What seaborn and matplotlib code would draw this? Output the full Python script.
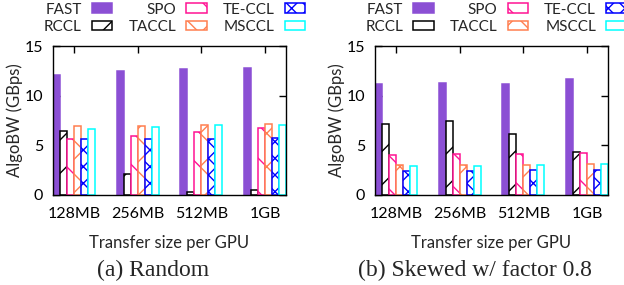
import pandas as pd
import numpy as np
import matplotlib
matplotlib.use('Agg')
import matplotlib.pyplot as plt
from matplotlib.patches import Patch
import seaborn as sns

sns.set_style('ticks')
plt.rcParams['font.family'] = ['Lato', 'DejaVu Sans']
plt.rcParams['hatch.linewidth'] = 1.0
plt.rcParams['axes.linewidth'] = 1.0

sizes = ['128MB', '256MB', '512MB', '1GB']
algos = ['FAST', 'RCCL', 'SPO', 'TACCL', 'TE-CCL', 'MSCCL']

# (a) Random
random_fast = [12.1, 12.5, 12.7, 12.8]
random_rccl = [6.4, 2.15, 0.35, 0.55]
random_spo = [5.6, 5.95, 6.3, 6.75]
random_taccl = [6.95, 6.95, 7.05, 7.1]
random_teccl = [5.6, 5.65, 5.67, 5.7]
random_msccl = [6.6, 6.8, 7.0, 7.05]

# (b) Skewed w/ factor 0.8
skew_fast = [11.2, 11.3, 11.15, 11.7]
skew_rccl = [7.1, 7.45, 6.1, 4.35]
skew_spo = [4.0, 4.1, 4.1, 4.2]
skew_taccl = [3.0, 3.0, 3.05, 3.1]
skew_teccl = [2.4, 2.45, 2.48, 2.48]
skew_msccl = [2.9, 2.95, 3.0, 3.1]

colors = ['#8b4fd4', 'black', '#ff1493', '#ff7f50', '#0000ff', '#00ffff']
hatches = ['', '/', '\\', 'x', 'xx', '']


def make_df(series):
    rows = []
    for algo, vals in zip(algos, series):
        for s, v in zip(sizes, vals):
            rows.append({'size': s, 'algo': algo, 'bw': v})
    return pd.DataFrame(rows)


def style(algo_idx, patch):
    c = colors[algo_idx]
    if algo_idx == 0:
        patch.set_facecolor(c)
        patch.set_edgecolor(c)
    else:
        patch.set_facecolor('white')
        patch.set_edgecolor(c)
        patch.set_hatch(hatches[algo_idx])
    patch.set_linewidth(1.1)


def draw(ax, df, xlabel, title, title_x, legend_x):
    sns.barplot(data=df, x='size', y='bw', hue='algo', order=sizes,
                hue_order=algos, width=0.66, gap=0, errorbar=None,
                legend=False, ax=ax)
    for i, cont in enumerate(ax.containers):
        for p in cont.patches:
            style(i, p)
    ax.set_xlim(-0.33, 3.33)
    ax.set_ylim(0, 15)
    ax.set_yticks([0, 5, 10, 15])
    ax.set_xlabel(xlabel, fontsize=12, labelpad=10)
    ax.set_ylabel('AlgoBW (GBps)', fontsize=12, labelpad=1.5)
    ax.tick_params(direction='in', length=5, width=1, top=True, right=True,
                   bottom=False, labelsize=11.5, pad=7, colors='black')
    ax.tick_params(axis='x', pad=9)
    for sp in ax.spines.values():
        sp.set_visible(True)
        sp.set_color('black')

    handles = []
    for i, a in enumerate(algos):
        h = Patch(label=a)
        style(i, h)
        handles.append(h)
    fig.legend(handles=handles, ncol=3, loc='upper center',
               bbox_to_anchor=(legend_x, 1 - 2.5 / 285), frameon=False,
               markerfirst=False, fontsize=11, handlelength=1.35,
               handleheight=0.55, handletextpad=0.65, columnspacing=1.05,
               labelspacing=0.22, borderpad=0, borderaxespad=0)
    fig.text(title_x, 1 - 270 / 285, title, ha='center', va='center',
             fontsize=17, family='Liberation Serif')


fig = plt.figure(figsize=(6.24, 2.85), dpi=100)
ax1 = fig.add_axes([53 / 624, 1 - 195 / 285, 233 / 624, 149 / 285])
ax2 = fig.add_axes([375 / 624, 1 - 195 / 285, 233 / 624, 149 / 285])

draw(ax1, make_df([random_fast, random_rccl, random_spo, random_taccl,
                   random_teccl, random_msccl]),
     'Transfer size per GPU', '(a) Random', 153 / 624, 174.5 / 624)
draw(ax2, make_df([skew_fast, skew_rccl, skew_spo, skew_taccl,
                   skew_teccl, skew_msccl]),
     'Transfer size per GPU', '(b) Skewed w/ factor 0.8', 474.5 / 624,
     496 / 624)

fig.savefig('out.png', dpi=100)
